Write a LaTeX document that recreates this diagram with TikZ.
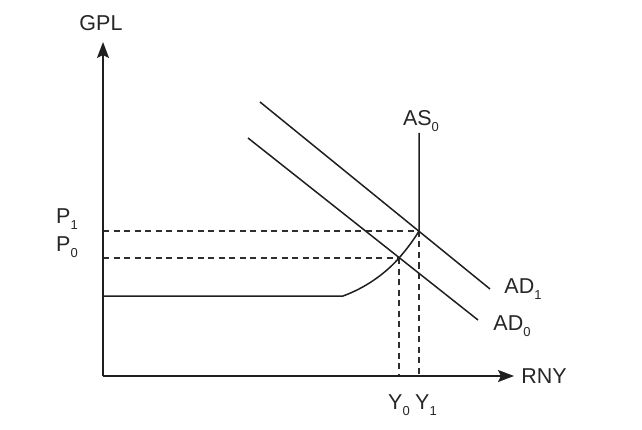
\documentclass[tikz,border=0pt]{standalone}
\usepackage{fontspec}
\setmainfont{Liberation Sans}
\usetikzlibrary{arrows.meta}
\newcommand{\sbx}[1]{\raisebox{-0.3em}{\fontsize{13}{13}\selectfont #1}}
\begin{document}
\begin{tikzpicture}[x=1pt,y=-1pt,
  curve/.style={line width=1.5pt,draw=black!88},
  axis/.style={line width=1.6pt,draw=black!88,-{Stealth[length=16pt,width=12pt,inset=3pt]}},
  guide/.style={line width=1.4pt,draw=black!82,dash pattern=on 6pt off 4.5pt},
  lbl/.style={font=\fontsize{21.5}{24}\selectfont,text=black!85,inner sep=0pt}]
\useasboundingbox (0,0) rectangle (642,430);
% key points
\coordinate (O) at (103,376);
\coordinate (ytop) at (103,42);
\coordinate (xend) at (514,376);
\coordinate (E0) at (399,258);
\coordinate (E1) at (419,231);
\coordinate (P0a) at (103,258);
\coordinate (P1a) at (103,231);
\coordinate (Y0a) at (399,376);
\coordinate (Y1a) at (419,376);
\coordinate (AStop) at (419,133);
\coordinate (h0) at (103,296);
\coordinate (h1) at (343,296);
\coordinate (AD1s) at (260,102);
\coordinate (AD1e) at (490,289);
\coordinate (AD0s) at (248,138);
\coordinate (AD0e) at (478,320);
% dashed guides
\draw[guide] (P1a) -- (E1);
\draw[guide] (P0a) -- (E0);
\draw[guide] (E0) -- (Y0a);
\draw[guide] (E1) -- (Y1a);
% axes
\draw[axis] (O) -- (ytop);
\draw[axis] (O) -- (xend);
% AS curve
\draw[curve] (h0) -- (h1) .. controls (365,288) and (385,274) .. (E0)
  .. controls (406,250) and (413,241) .. (E1) -- (AStop);
% AD curves
\draw[curve] (AD1s) -- (AD1e);
\draw[curve] (AD0s) -- (AD0e);
% labels
\node[lbl] (gpl) at (101,23) {GPL};
\node[lbl] (rny) at (544,376) {RNY};
\node[lbl] (as0) at (421,121) {AS\sbx{0}};
\node[lbl] (ad1) at (523,289) {AD\sbx{1}};
\node[lbl] (ad0) at (512,326) {AD\sbx{0}};
\node[lbl] (p1) at (67,219) {P\sbx{1}};
\node[lbl] (p0) at (67,247) {P\sbx{0}};
\node[lbl] (y0) at (399,405) {Y\sbx{0}};
\node[lbl] (y1) at (426,405) {Y\sbx{1}};
\end{tikzpicture}
\end{document}
